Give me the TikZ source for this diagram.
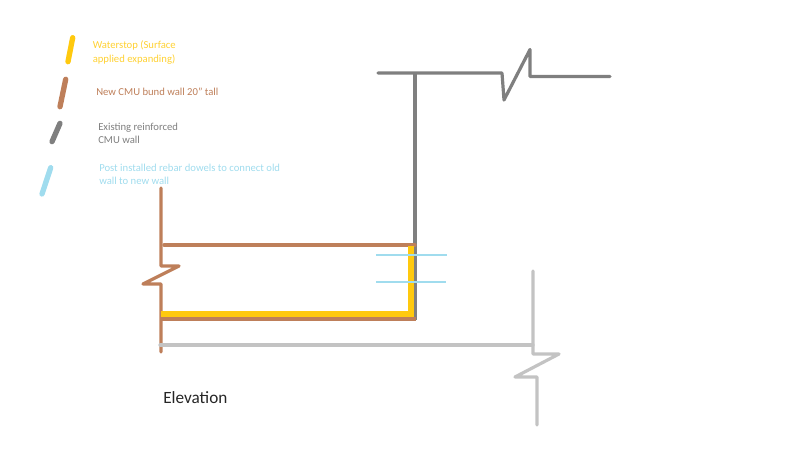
\documentclass[tikz,border=0pt]{standalone}
\usepackage{xcolor}
\usepackage{fontspec}
\setmainfont{Carlito}
\usepackage{tikz}
\definecolor{waterstop}{HTML}{FFC90E}
\definecolor{newwall}{HTML}{BE7F5A}
\definecolor{oldwall}{HTML}{7F7F7F}
\definecolor{ghostwall}{HTML}{C3C3C3}
\definecolor{dowel}{HTML}{A0DCEE}
\tikzset{
  wall/.style={line width=2.4pt,line cap=round,line join=round},
  keybar/.style={line width=4pt,line cap=round},
  keytext/.style={anchor=west,align=left,font=\fontsize{8pt}{9.8pt}\selectfont,inner sep=0pt}
}
\newcommand\keybar[5]{
  \draw[keybar,#1] (#2,#3) -- (#4,#5);
}
\begin{document}
\begin{tikzpicture}[x=0.75pt,y=-0.75pt]
      \useasboundingbox (0,0) rectangle (800,450);

      \keybar{waterstop}{72.7}{37.7}{68}{61.7}
      \keybar{newwall}{65.7}{79.3}{60}{106.7}
      \keybar{oldwall}{60}{123.3}{52}{141.7}
      \keybar{dowel}{50.7}{167.7}{42}{194}

      \node[keytext,text=waterstop!85!white] (waterstoptext) at (92.5,52.5) {Waterstop (Surface\\applied expanding)};
      \node[keytext,text=newwall] (newwalltext) at (96,91.5) {New CMU bund wall 20" tall};
      \node[keytext,text=oldwall] (oldwalltext) at (98,133.5) {Existing reinforced\\CMU wall};
      \node[keytext,text=dowel] (doweltext) at (99,174.5) {Post installed rebar dowels to connect old\\wall to new wall};

      % existing wall
      \draw[wall,oldwall] (378,73) -- (502,73) -- (504,100) -- (530,49.5) -- (530,76.5) -- (610,76.5);
      \draw[wall,oldwall,line cap=butt] (415,73) -- (415,320);

      % bund wall
      \draw[wall,newwall] (161,188) -- (161,266) -- (179,266) -- (143,284) -- (161,284) -- (161,352);
      \draw[wall,newwall] (164,245) -- (415,245);
      \draw[wall,newwall,line cap=butt] (161,319) -- (416,319);

      % waterstop
      \draw[line width=4pt,waterstop,line join=miter] (161,314) -- (411,314) -- (411,246);

      % adjoining wall
      \draw[wall,ghostwall] (160,345) -- (533,345);
      \draw[wall,ghostwall] (533,271) -- (533,354) -- (559,354) -- (515,377) -- (537,377) -- (537,425);

      % dowels
      \draw[line width=1.5pt,dowel] (376,255) -- (447,255);
      \draw[line width=1.5pt,dowel] (376,282) -- (446,282);

      \node[anchor=west,inner sep=0pt,font=\fontsize{12.9pt}{14pt}\selectfont,text=black!85] (elevation) at (163,398) {Elevation};
\end{tikzpicture}
\end{document}
